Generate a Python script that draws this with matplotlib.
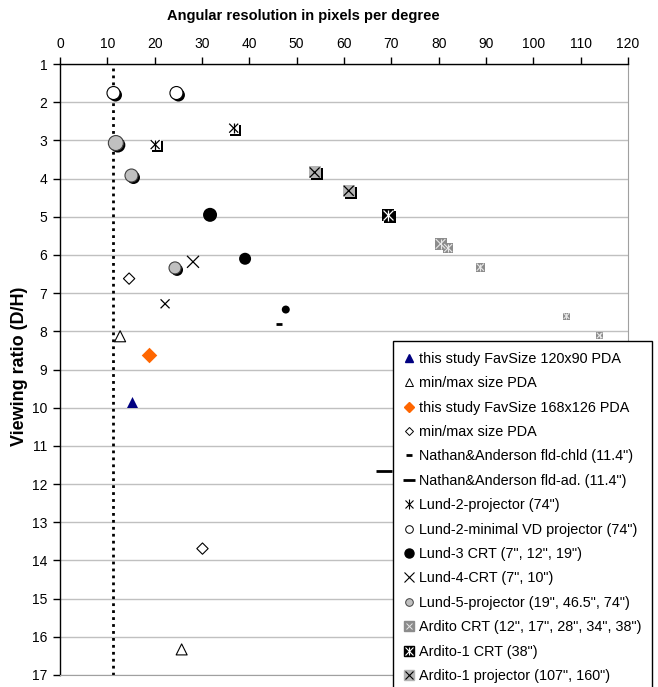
from matplotlib import pyplot
from matplotlib import transforms
from matplotlib.lines import Line2D
from matplotlib.legend_handler import HandlerTuple

pyplot.rcParams["font.family"] = ["Liberation Sans", "DejaVu Sans"]
pyplot.rcParams["font.size"] = 10

# data (x: pixels per degree, y: viewing ratio D/H)
study120_x = [15.3]
study120_y = [9.85]
minmax120_x = [12.7, 25.7]
minmax120_y = [8.13, 16.33]
study168_x = [18.9]
study168_y = [8.61]
minmax168_x = [14.6, 30.1]
minmax168_y = [6.62, 13.69]
nathan_chld_x = [46.3]
nathan_chld_y = [7.80]
nathan_ad_x = [68.4]
nathan_ad_y = [11.65]
lund2_proj_x = [20.1, 36.7]
lund2_proj_y = [3.11, 2.68]
lund2_minvd_x = [11.3, 24.6]
lund2_minvd_y = [1.76, 1.76]
lund3_x = [31.7, 39.1, 47.7]
lund3_y = [4.95, 6.10, 7.43]
lund4_x = [28.1, 22.2]
lund4_y = [6.18, 7.28]
lund5_x = [11.8, 15.1, 24.3]
lund5_y = [3.07, 3.92, 6.34]
ardito_crt_x = [80.4, 82.0, 88.8, 107.0, 114.0]
ardito_crt_y = [5.71, 5.82, 6.32, 7.60, 8.11]
ardito1_crt_x = [69.4]
ardito1_crt_y = [4.95]
ardito1_proj_x = [53.8, 61.0]
ardito1_proj_y = [3.84, 4.32]
limit_x = 11.3

# marker diameters in pixels, per point
lund2_minvd_px = [13, 13]
lund3_px = [14, 12, 8]
lund4_px = [12, 9]
lund5_px = [15, 13, 12]
ardito_crt_px = [12, 10, 9, 7, 7]

GRAY = "#c0c0c0"
DARKGRAY = "#8c8c8c"


def area(px):
    return [(p * 72 / 100) ** 2 for p in px]


fig = pyplot.figure(figsize=(6.58, 6.87), dpi=100)
ax = fig.add_axes([60 / 658, 1 - 675 / 687, 568 / 658, 611 / 687])
shadow = transforms.offset_copy(ax.transData, fig=fig, x=2, y=-2, units="dots")

ax.axvline(limit_x, color="black", linestyle=(0, (1, 1.5)), linewidth=2, zorder=2)

# Lund-2 minimal VD projector: open circles with shadow
ax.scatter(lund2_minvd_x, lund2_minvd_y, s=area(lund2_minvd_px), c="black",
           transform=shadow, zorder=3, linewidths=0)
ax.scatter(lund2_minvd_x, lund2_minvd_y, s=area(lund2_minvd_px), c="white",
           edgecolors="black", linewidths=0.8, zorder=4)

# Lund-5 projector: gray circles with shadow
ax.scatter(lund5_x, lund5_y, s=area(lund5_px), c="black", transform=shadow,
           zorder=3, linewidths=0)
ax.scatter(lund5_x, lund5_y, s=area(lund5_px), c=GRAY, edgecolors="#404040",
           linewidths=0.8, zorder=4)

# Lund-3 CRT
ax.scatter(lund3_x, lund3_y, s=area(lund3_px), c="black", linewidths=0, zorder=4)

# Lund-4 CRT
ax.scatter(lund4_x, lund4_y, s=area(lund4_px), marker="x", c="black",
           linewidths=0.9, zorder=4)

# Lund-2 projector: white box with asterisk and shadow
ax.scatter(lund2_proj_x, lund2_proj_y, s=area([11, 11]), marker="s", c="black",
           transform=shadow, linewidths=0, zorder=3)
ax.scatter(lund2_proj_x, lund2_proj_y, s=area([11, 11]), marker="s", c="white",
           linewidths=0, zorder=4)
ax.scatter(lund2_proj_x, lund2_proj_y, s=area([9, 9]), marker="x", c="black",
           linewidths=0.9, zorder=5)
ax.scatter(lund2_proj_x, lund2_proj_y, s=area([10, 10]), marker="|", c="black",
           linewidths=0.9, zorder=5)

# Ardito-1 projector: gray box with x and shadow
ax.scatter(ardito1_proj_x, ardito1_proj_y, s=area([12, 12]), marker="s", c="black",
           transform=shadow, linewidths=0, zorder=3)
ax.scatter(ardito1_proj_x, ardito1_proj_y, s=area([12, 12]), marker="s", c="#b4b4b4",
           linewidths=0, zorder=4)
ax.scatter(ardito1_proj_x, ardito1_proj_y, s=area([10, 10]), marker="x", c="black",
           linewidths=0.9, zorder=5)

# Ardito-1 CRT: black box with white asterisk
ax.scatter(ardito1_crt_x, ardito1_crt_y, s=area([12]), marker="s", c="black",
           transform=shadow, linewidths=0, zorder=3)
ax.scatter(ardito1_crt_x, ardito1_crt_y, s=area([12]), marker="s", c="black",
           linewidths=0, zorder=4)
ax.scatter(ardito1_crt_x, ardito1_crt_y, s=area([10]), marker="x", c="white",
           linewidths=0.9, zorder=5)
ax.scatter(ardito1_crt_x, ardito1_crt_y, s=area([11]), marker="|", c="white",
           linewidths=0.9, zorder=5)

# Ardito CRT: gray boxes with light asterisk
ax.scatter(ardito_crt_x, ardito_crt_y, s=area(ardito_crt_px), marker="s", c=DARKGRAY,
           linewidths=0, zorder=4)
ax.scatter(ardito_crt_x, ardito_crt_y, s=area([p * 0.8 for p in ardito_crt_px]),
           marker="x", c="#e8e8e8", linewidths=0.8, zorder=5)
ax.scatter(ardito_crt_x, ardito_crt_y, s=area([p * 0.8 for p in ardito_crt_px]),
           marker="|", c="#e8e8e8", linewidths=0.8, zorder=5)

# PDA studies
ax.scatter(study120_x, study120_y, s=area([11]), marker="^", c="#000080",
           linewidths=0, zorder=4)
ax.scatter(minmax120_x, minmax120_y, s=area([11, 11]), marker="^", c="white",
           edgecolors="black", linewidths=0.8, zorder=4)
ax.scatter(study168_x, study168_y, s=area([11]), marker="D", c="#ff6600",
           linewidths=0, zorder=4)
ax.scatter(minmax168_x, minmax168_y, s=area([8, 8]), marker="D", c="white",
           edgecolors="black", linewidths=0.8, zorder=4)

# Nathan & Anderson
ax.scatter(nathan_chld_x, nathan_chld_y, s=area([6]), marker="_", c="black",
           linewidths=2, zorder=4)
ax.scatter(nathan_ad_x, nathan_ad_y, s=area([16]), marker="_", c="black",
           linewidths=2, zorder=4)

ax.set_xlim(0, 120)
ax.set_ylim(17, 1)
ax.set_xticks(range(0, 121, 10))
ax.set_yticks(range(1, 18))
ax.xaxis.tick_top()
ax.tick_params(axis="both", direction="out", length=5, width=1, labelsize=10, pad=4)
ax.set_axisbelow(True)
ax.yaxis.grid(True, color=GRAY, linewidth=1)
ax.spines["top"].set_linewidth(1)
ax.spines["left"].set_linewidth(1)
ax.spines["right"].set_color("#a0a0a0")
ax.spines["bottom"].set_color("#a0a0a0")

fig.text(303 / 658, 1 - 16 / 687, "Angular resolution in pixels per degree",
         ha="center", va="center", fontweight="bold", fontsize=10.5)
fig.text(20 / 658, 1 - 366 / 687, "Viewing ratio (D/H)", ha="center", va="center",
         rotation=90, fontweight="bold", fontsize=13)

ms = 5.5
handles = [
    Line2D([], [], ls="", marker="^", ms=ms, mfc="#000080", mec="#000080"),
    Line2D([], [], ls="", marker="^", ms=ms, mfc="white", mec="black", mew=0.7),
    Line2D([], [], ls="", marker="D", ms=5, mfc="#ff6600", mec="#ff6600"),
    Line2D([], [], ls="", marker="D", ms=4.5, mfc="white", mec="black", mew=0.7),
    Line2D([], [], ls="", marker="_", ms=4, mec="black", mew=2),
    Line2D([], [], ls="", marker="_", ms=8, mec="black", mew=2),
    (Line2D([], [], ls="", marker="x", ms=5.5, mec="black", mew=0.8),
     Line2D([], [], ls="", marker="|", ms=6.5, mec="black", mew=0.8)),
    Line2D([], [], ls="", marker="o", ms=ms, mfc="white", mec="black", mew=0.7),
    Line2D([], [], ls="", marker="o", ms=6.5, mfc="black", mec="black"),
    Line2D([], [], ls="", marker="x", ms=6.5, mec="black", mew=0.8),
    Line2D([], [], ls="", marker="o", ms=ms, mfc=GRAY, mec="#404040", mew=0.7),
    (Line2D([], [], ls="", marker="s", ms=6.5, mfc=DARKGRAY, mec=DARKGRAY),
     Line2D([], [], ls="", marker="x", ms=4.5, mec="#e8e8e8", mew=0.7)),
    (Line2D([], [], ls="", marker="s", ms=7, mfc="black", mec="black"),
     Line2D([], [], ls="", marker="x", ms=5.5, mec="white", mew=0.8),
     Line2D([], [], ls="", marker="|", ms=5.5, mec="white", mew=0.8)),
    (Line2D([], [], ls="", marker="s", ms=7, mfc="#b4b4b4", mec="#b4b4b4"),
     Line2D([], [], ls="", marker="x", ms=5.5, mec="black", mew=0.8)),
]
labels = [
    "this study FavSize 120x90 PDA",
    "min/max size PDA",
    "this study FavSize 168x126 PDA",
    "min/max size PDA",
    "Nathan&Anderson fld-chld (11.4\")",
    "Nathan&Anderson fld-ad. (11.4\")",
    "Lund-2-projector (74\")",
    "Lund-2-minimal VD projector (74\")",
    "Lund-3 CRT (7\", 12\", 19\")",
    "Lund-4-CRT (7\", 10\")",
    "Lund-5-projector (19\", 46.5\", 74\")",
    "Ardito CRT (12\", 17\", 28\", 34\", 38\")",
    "Ardito-1 CRT (38\")",
    "Ardito-1 projector (107\", 160\")",
]
leg = ax.legend(
    handles, labels,
    loc="upper left",
    bbox_to_anchor=(393 / 658, 1 - 341 / 687),
    bbox_transform=fig.transFigure,
    handler_map={tuple: HandlerTuple(ndivide=1)},
    fancybox=False,
    framealpha=1,
    edgecolor="black",
    borderaxespad=0,
    borderpad=0.75,
    handlelength=0.7,
    handletextpad=0.35,
    labelspacing=0.72,
    fontsize=10.4,
)
leg.get_frame().set_linewidth(1)
leg.set_zorder(10)

fig.savefig("out.png", dpi=100)
